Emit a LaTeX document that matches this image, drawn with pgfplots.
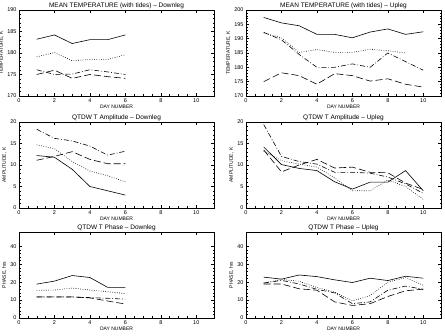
\documentclass[border=0pt]{standalone}
\usepackage{pgfplots}
\pgfplotsset{compat=1.18}
\usepackage{fontspec}
\setmainfont{Liberation Sans}
\pgfplotsset{
  panel/.style={
    scale only axis, width=195pt, height=86pt, anchor=north west,
    xmin=0, xmax=11, xtick={0,2,4,6,8,10}, minor x tick num=3,
    tick align=inside, xtick pos=both, ytick pos=both,
    major tick length=3pt, minor tick length=1.5pt,
    every tick/.style={black, line width=0.4pt},
    axis line style={line width=0.6pt},
    /pgf/number format/assume math mode=true,
    tick label style={font=\fontsize{5.5}{6}\selectfont},
    xticklabel style={yshift=1pt},
    yticklabel style={xshift=1pt},
    label style={font=\fontsize{5}{6}\selectfont},
    xlabel={DAY NUMBER},
    xlabel style={at={(axis description cs:0.5,0)}, anchor=north, inner sep=0pt, yshift=-8.5pt},
    ylabel style={yshift=-3pt},
    every axis plot/.append style={black, line width=0.6pt, mark=none},
  },
  sol/.style={solid},
  dot/.style={dash pattern=on 0.7pt off 1.6pt},
  dd/.style={dash pattern=on 5pt off 2pt on 0.8pt off 2pt},
  ld/.style={dash pattern=on 7pt off 3pt},
}
\tikzset{ttl/.style={anchor=base, inner sep=0pt, font=\fontsize{6.5}{7}\selectfont}}
\begin{document}
\begin{tikzpicture}
\useasboundingbox (0,0) rectangle (445pt,-336pt);
\node[ttl] at (116.5pt,-7.5pt) {MEAN TEMPERATURE (with tides) -- Downleg};
\node[ttl] at (343.5pt,-7.5pt) {MEAN TEMPERATURE (with tides) -- Upleg};
\node[ttl] at (116.5pt,-119.3pt) {QTDW T Amplitude -- Downleg};
\node[ttl] at (343.5pt,-119.3pt) {QTDW T Amplitude -- Upleg};
\node[ttl] at (116.5pt,-229.3pt) {QTDW T Phase -- Downleg};
\node[ttl] at (343.5pt,-229.3pt) {QTDW T Phase -- Upleg};
% Panel 1
\begin{axis}[panel, at={(19pt,-10pt)}, ymin=170, ymax=190, ytick={170,175,...,190}, minor y tick num=4,
  ylabel={TEMPERATURE, K}]
\addplot[sol] coordinates {(1,183.2)(2,184.2)(3,182.2)(4,183.1)(5,183.1)(6,184.2)};
\addplot[dot] coordinates {(1,179.1)(2,180.1)(3,178.2)(4,178.5)(5,178.5)(6,179.6)};
\addplot[dd] coordinates {(1,176.1)(2,175.0)(3,175.1)(4,176.1)(5,175.6)(6,175.0)};
\addplot[ld] coordinates {(1,175.0)(2,176.0)(3,174.1)(4,175.0)(5,174.5)(6,174.1)};
\end{axis}
% Panel 2
\begin{axis}[panel, at={(246pt,-10pt)}, ymin=170, ymax=200, ytick={170,175,...,200}, minor y tick num=4,
  ylabel={TEMPERATURE, K}]
\addplot[sol] coordinates {(1,197.4)(2,195.5)(3,194.5)(4,191.5)(5,191.5)(6,190.3)(7,192.3)(8,193.4)(9,191.5)(10,192.4)};
\addplot[dot] coordinates {(1,192.0)(2,190.3)(3,185.2)(4,186.2)(5,185.2)(6,185.2)(7,186.3)(8,185.8)(9,185.0)};
\addplot[dd] coordinates {(1,192.2)(2,189.6)(3,184.5)(4,180.0)(5,180.0)(6,181.2)(7,180.0)(8,185.0)(9,182.0)(10,179.0)};
\addplot[ld] coordinates {(1,175.0)(2,178.1)(3,177.1)(4,174.1)(5,177.8)(6,177.1)(7,175.2)(8,176.0)(9,174.1)(10,173.1)};
\end{axis}
% Panel 3
\begin{axis}[panel, at={(19pt,-122pt)}, ymin=0, ymax=20, ytick={0,5,...,20}, minor y tick num=4,
  ylabel={AMPLITUDE, K}]
\addplot[sol] coordinates {(1,12.2)(2,11.8)(3,9.0)(4,5.0)(5,4.0)(6,3.0)};
\addplot[dot] coordinates {(1,14.7)(2,13.8)(3,10.8)(4,8.6)(5,7.5)(6,6.1)};
\addplot[dd] coordinates {(1,18.3)(2,16.2)(3,15.6)(4,14.4)(5,12.3)(6,13.2)};
\addplot[ld] coordinates {(1,11.1)(2,12.0)(3,13.1)(4,11.3)(5,10.3)(6,10.3)};
\end{axis}
% Panel 4
\begin{axis}[panel, at={(246pt,-122pt)}, ymin=0, ymax=20, ytick={0,5,...,20}, minor y tick num=4,
  ylabel={AMPLITUDE, K}]
\addplot[sol] coordinates {(1,14.2)(2,10.1)(3,9.2)(4,8.7)(5,6.1)(6,4.4)(7,6.0)(8,6.0)(9,8.7)(10,4.0)};
\addplot[dot] coordinates {(1,13.2)(2,11.0)(3,10.2)(4,9.5)(5,7.0)(6,4.0)(7,4.0)(8,6.5)(9,5.0)(10,2.0)};
\addplot[dd] coordinates {(1,19.4)(2,12.0)(3,10.8)(4,10.2)(5,8.3)(6,8.3)(7,8.1)(8,7.2)(9,5.6)(10,3.4)};
\addplot[ld] coordinates {(1,13.5)(2,8.4)(3,10.0)(4,11.3)(5,9.3)(6,9.5)(7,8.3)(8,8.2)(9,5.8)(10,4.3)};
\end{axis}
% Panel 5
\begin{axis}[panel, at={(19pt,-232pt)}, ymin=0, ymax=48, ytick={0,10,...,40}, minor y tick num=4,
  ylabel={PHASE, hrs}]
\addplot[sol] coordinates {(1,18.9)(2,20.6)(3,23.7)(4,22.6)(5,17.1)(6,17.1)};
\addplot[dot] coordinates {(1,15.4)(2,15.6)(3,16.7)(4,15.6)(5,14.7)(6,13.6)};
\addplot[dd] coordinates {(1,11.7)(2,11.7)(3,11.7)(4,11.4)(5,11.0)(6,10.5)};
\addplot[ld] coordinates {(1,11.8)(2,11.8)(3,11.8)(4,11.2)(5,9.5)(6,7.8)};
\end{axis}
% Panel 6
\begin{axis}[panel, at={(246pt,-232pt)}, ymin=0, ymax=48, ytick={0,10,...,40}, minor y tick num=4,
  ylabel={PHASE, hrs}]
\addplot[sol] coordinates {(1,22.8)(2,21.7)(3,24.0)(4,23.1)(5,21.3)(6,19.8)(7,22.2)(8,20.9)(9,23.3)(10,22.2)};
\addplot[dot] coordinates {(1,19.5)(2,21.5)(3,20.5)(4,17.0)(5,14.5)(6,9.5)(7,12.5)(8,20.0)(9,22.5)(10,18.3)};
\addplot[dd] coordinates {(1,19.5)(2,21.0)(3,19.0)(4,16.0)(5,14.0)(6,8.0)(7,9.0)(8,15.5)(9,17.8)(10,16.0)};
\addplot[ld] coordinates {(1,19.0)(2,19.0)(3,16.3)(4,15.5)(5,9.0)(6,7.0)(7,8.0)(8,12.0)(9,15.2)(10,16.1)};
\end{axis}
\end{tikzpicture}
\end{document}
